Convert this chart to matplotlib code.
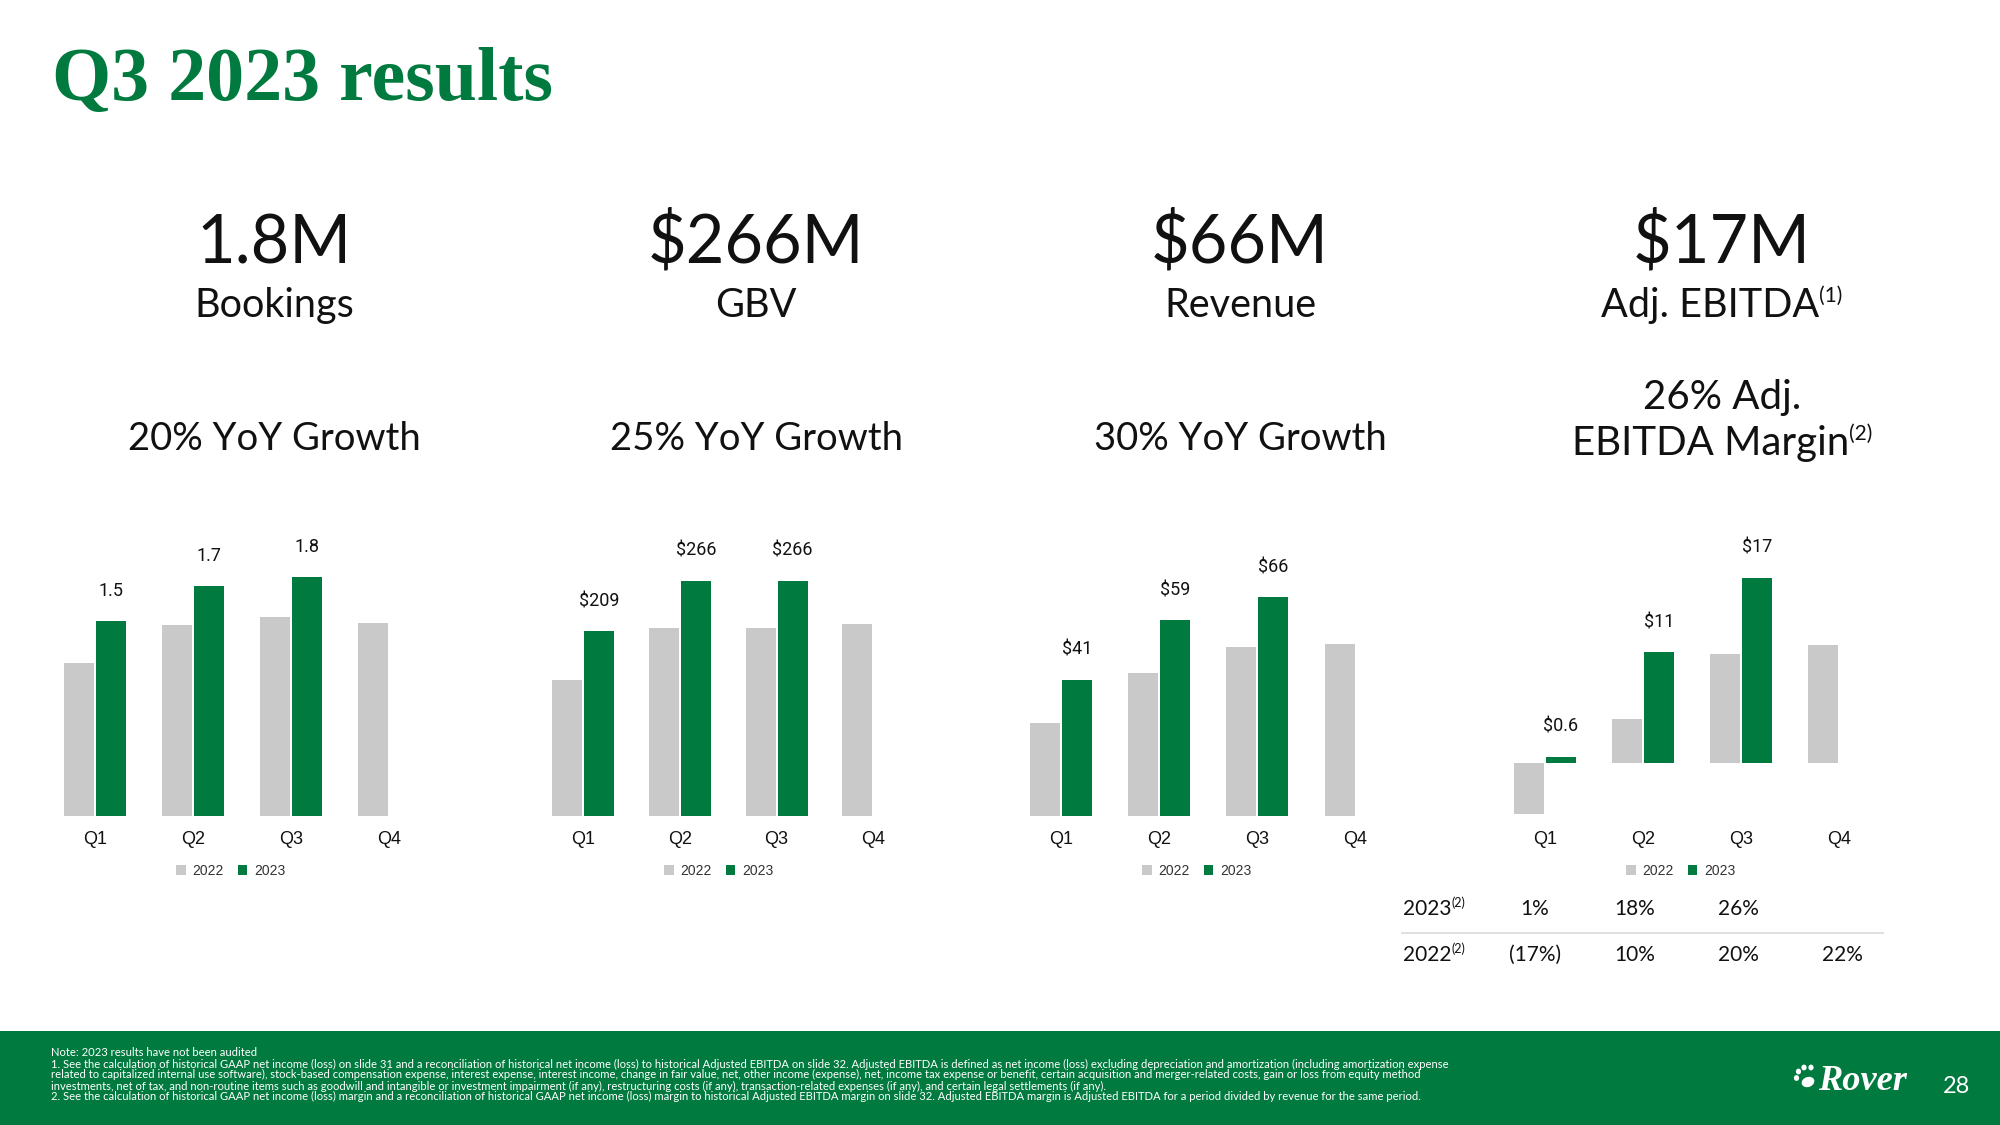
import matplotlib
matplotlib.use("Agg")
import matplotlib.pyplot as plt
from matplotlib.patches import Rectangle, Ellipse, Patch
import numpy as np

# ---------------- data ----------------
quarters = ["Q1", "Q2", "Q3", "Q4"]
series_years = ["2022", "2023"]

bookings_2022 = [1.15, 1.44, 1.50, 1.45]
bookings_2023 = [1.47, 1.73, 1.80, np.nan]
bookings_labels = ["1.5", "1.7", "1.8", ""]

gbv_2022 = [154, 212, 213, 217]
gbv_2023 = [209, 266, 266, np.nan]
gbv_labels = ["$209", "$266", "$266", ""]

revenue_2022 = [28, 43, 51, 52]
revenue_2023 = [41, 59, 66, np.nan]
revenue_labels = ["$41", "$59", "$66", ""]

ebitda_2022 = [-4.7, 4.1, 10.1, 11.0]
ebitda_2023 = [0.6, 10.3, 17.2, np.nan]
ebitda_labels = ["$0.6", "$11", "$17", ""]

headline_values = ["1.8M", "$266M", "$66M", "$17M"]
headline_metrics = ["Bookings", "GBV", "Revenue", "Adj. EBITDA"]
headline_sups = ["", "", "", "(1)"]
growth_texts = ["20% YoY Growth", "25% YoY Growth", "30% YoY Growth"]
margin_lines = ["26% Adj.", "EBITDA Margin"]

margin_row_labels = ["2023", "2022"]
margin_2023 = ["1%", "18%", "26%", ""]
margin_2022 = ["(17%)", "10%", "20%", "22%"]

title = "Q3 2023 results"
footer_lines = [
    "Note: 2023 results have not been audited",
    "1. See the calculation of historical GAAP net income (loss) on slide 31 and a reconciliation of historical net income (loss) to historical Adjusted EBITDA on slide 32. Adjusted EBITDA is defined as net income (loss) excluding depreciation and amortization (including amortization expense",
    "related to capitalized internal use software), stock-based compensation expense, interest expense, interest income, change in fair value, net, other income (expense), net, income tax expense or benefit, certain acquisition and merger-related costs, gain or loss from equity method",
    "investments, net of tax, and non-routine items such as goodwill and intangible or investment impairment (if any), restructuring costs (if any), transaction-related expenses (if any), and certain legal settlements (if any).",
    "2. See the calculation of historical GAAP net income (loss) margin and a reconciliation of historical GAAP net income (loss) margin to historical Adjusted EBITDA margin on slide 32. Adjusted EBITDA margin is Adjusted EBITDA for a period divided by revenue for the same period.",
]
page_number = "28"
logo_text = "Rover"

# ---------------- style ----------------
W, H = 2000, 1125
DPI = 100
GREEN = "#007A3E"
GRAY = "#C9C9C9"
TXT = "#111111"
HEAD_FONT = "Lato"
CHART_FONT = "Liberation Sans"
LABEL_FONT = "Roboto"

fig = plt.figure(figsize=(W / DPI, H / DPI), dpi=DPI)
fig.patch.set_facecolor("white")
renderer = fig.canvas.get_renderer()


def fx(x):
    return x / W


def fy(y):
    return 1 - y / H


def text_w(s, **kw):
    t = fig.text(0, 0, s, **kw)
    w = t.get_window_extent(renderer=renderer).width
    t.remove()
    return w


# overlay axes for decorations (pixel coords, y down)
deco = fig.add_axes([0, 0, 1, 1], zorder=-1)
deco.set_xlim(0, W)
deco.set_ylim(H, 0)
deco.axis("off")
deco.add_patch(Rectangle((0, 1031), W, H - 1031, facecolor=GREEN, edgecolor="none"))
# table separator
deco.plot([1402, 1883], [933, 933], color="#DADADA", lw=1.2)
# paw
deco.add_patch(Ellipse((1808, 1082), 13, 10, angle=-20, facecolor="white", edgecolor="none"))
for cx, cy in [(1796.5, 1078), (1798.5, 1071.5), (1804, 1067.5), (1811, 1067.5)]:
    deco.add_patch(Ellipse((cx, cy), 5.2, 5.8, facecolor="white", edgecolor="none"))

# ---------------- title ----------------
tw = text_w(title, family="Liberation Serif", weight="bold", fontsize=54)
fig.text(fx(52), fy(100), title, family="Liberation Serif", weight="bold",
         fontsize=54 * 501 / tw, color=GREEN, ha="left", va="baseline")

# ---------------- bar panels ----------------
BOTTOM_PX, TOP_PX = 816, 520
BAR_W_PX, OFF_PX = 30, 16


def draw_panel(x0, spacing, zero_px, px_per_unit, s22, s23, labels):
    left = x0 - spacing / 2
    width = spacing * 4
    ax = fig.add_axes([fx(left), fy(BOTTOM_PX), width / W, (BOTTOM_PX - TOP_PX) / H])
    ax.set_xlim(-0.5, 3.5)
    ax.set_ylim(-(BOTTOM_PX - zero_px) / px_per_unit, (zero_px - TOP_PX) / px_per_unit)
    x = np.arange(len(quarters))
    bw = BAR_W_PX / spacing
    off = OFF_PX / spacing
    ax.bar(x - off, s22, width=bw, color=GRAY, label=series_years[0])
    ax.bar(x + off, s23, width=bw, color=GREEN, label=series_years[1])
    for xi, v, lab in zip(x, s23, labels):
        if lab and not np.isnan(v):
            ax.annotate(lab, xy=(xi + off, v), xytext=(0, 30 * 72 / DPI),
                        textcoords="offset points", ha="center", va="center",
                        fontsize=13, family=LABEL_FONT, color=TXT)
    ax.set_xticks(x)
    ax.set_xticklabels(quarters, fontsize=13, family=CHART_FONT, color=TXT)
    ax.tick_params(axis="x", length=0, pad=11)
    ax.set_yticks([])
    for s in ax.spines.values():
        s.set_visible(False)
    ax.patch.set_alpha(0)
    handles = [Patch(facecolor=GRAY), Patch(facecolor=GREEN)]
    leg = ax.legend(handles, series_years, loc="center",
                    bbox_to_anchor=((spacing / 2 + 136) / width, -(871 - BOTTOM_PX) / (BOTTOM_PX - TOP_PX)),
                    ncol=2, frameon=False, handlelength=0.67, handleheight=0.67,
                    handletextpad=0.5, columnspacing=1.0,
                    prop={"family": CHART_FONT, "size": 10})
    for t in leg.get_texts():
        t.set_color("#333333")
    return ax


draw_panel(95, 98, 816, 132.8, bookings_2022, bookings_2023, bookings_labels)
draw_panel(583, 96.8, 816.3, 0.886, gbv_2022, gbv_2023, gbv_labels)
draw_panel(1061, 98.2, 815.7, 3.31, revenue_2022, revenue_2023, revenue_labels)
draw_panel(1545, 98, 763.3, 10.8, ebitda_2022, ebitda_2023, ebitda_labels)

# ---------------- headline texts ----------------
centers = [274, 756, 1240, 1722]


def centered_with_sup(cx, base, main, sup, size, sup_size, raise_px, family=HEAD_FONT, color=TXT):
    wm = text_w(main, family=family, fontsize=size)
    ws = text_w(sup, family=family, fontsize=sup_size) if sup else 0
    left = cx - (wm + ws) / 2
    fig.text(fx(left), fy(base), main, family=family, fontsize=size, color=color,
             ha="left", va="baseline")
    if sup:
        fig.text(fx(left + wm), fy(base - raise_px), sup, family=family, fontsize=sup_size,
                 color=color, ha="left", va="baseline")


for i, cx in enumerate(centers):
    fig.text(fx(cx), fy(263), headline_values[i], family=HEAD_FONT, fontsize=48,
             color=TXT, ha="center", va="baseline")
    centered_with_sup(cx, 317, headline_metrics[i], headline_sups[i], 28.5, 15, 15)

for i, g in enumerate(growth_texts):
    fig.text(fx(centers[i]), fy(450), g, family=HEAD_FONT, fontsize=27.5,
             color=TXT, ha="center", va="baseline")

fig.text(fx(1722), fy(409), margin_lines[0], family=HEAD_FONT, fontsize=29,
         color=TXT, ha="center", va="baseline")
centered_with_sup(1722, 455, margin_lines[1], "(2)", 29, 15, 15)

# ---------------- margin table ----------------
col_x = [1535, 1635, 1738, 1842]
row_base = [915, 961]
for rl, base, vals in zip(margin_row_labels, row_base, [margin_2023, margin_2022]):
    wm = text_w(rl, family=HEAD_FONT, fontsize=15)
    fig.text(fx(1403), fy(base), rl, family=HEAD_FONT, fontsize=15, color=TXT,
             ha="left", va="baseline")
    fig.text(fx(1403 + wm), fy(base - 8), "(2)", family=HEAD_FONT, fontsize=9,
             color=TXT, ha="left", va="baseline")
    for cx, v in zip(col_x, vals):
        if v:
            fig.text(fx(cx), fy(base), v, family=HEAD_FONT, fontsize=15, color=TXT,
                     ha="center", va="baseline")

# ---------------- footer ----------------
ref_w = text_w(footer_lines[1], family=HEAD_FONT, fontsize=7)
fsize = 7 * 1402 / ref_w
footer_base = [1055.5, 1067.5, 1078.5, 1089.5, 1100.5]
for line, base in zip(footer_lines, footer_base):
    fig.text(fx(51), fy(base), line, family=HEAD_FONT, fontsize=fsize,
             color="white", ha="left", va="baseline")

lw = text_w(logo_text, family="Liberation Serif", weight="bold", style="italic", fontsize=26)
fig.text(fx(1818), fy(1090), logo_text, family="Liberation Serif", weight="bold",
         style="italic", fontsize=26 * 89 / lw, color="white", ha="left", va="baseline")
fig.text(fx(1956), fy(1093), page_number, family=HEAD_FONT, fontsize=17,
         color="white", ha="center", va="baseline")

fig.savefig("out.png", dpi=DPI, facecolor="white")
